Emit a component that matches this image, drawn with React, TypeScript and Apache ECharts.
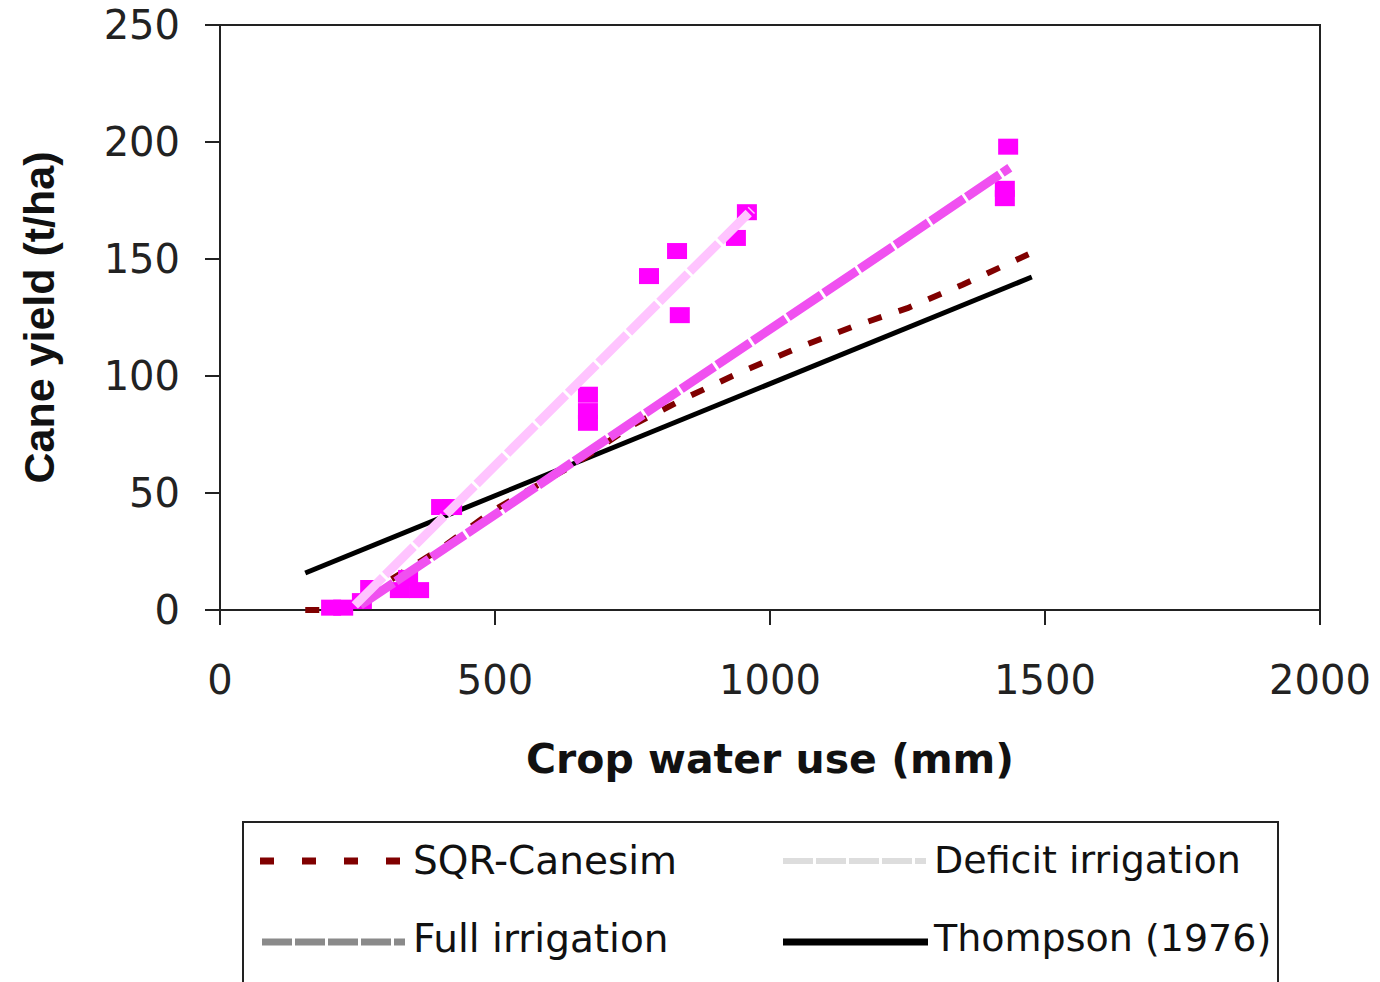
import React, { useEffect, useRef } from "react";
import * as echarts from "echarts";

const xTicks = [0, 500, 1000, 1500, 2000];
const yTicks = [0, 50, 100, 150, 200, 250];

const observedWaterUse = [202, 224, 258, 273, 327, 342, 362, 402, 422, 669, 669, 669, 780, 831, 836, 938, 958, 1433, 1427, 1427];
const observedYield = [1, 1, 3.8, 9.4, 8.5, 13.7, 8.5, 44, 44, 92, 85, 80, 142.7, 153.4, 126, 159, 170, 198, 180, 176];

const sqrWaterUse = [155, 230, 290, 400, 500, 650, 750, 850, 950, 1050, 1150, 1250, 1350, 1470];
const sqrYield = [0, 0, 10, 26, 43, 63, 79, 91, 102, 112, 121, 129, 139, 152];

const deficitWaterUse = [245, 967];
const deficitYield = [2, 171];

const fullWaterUse = [255, 1436];
const fullYield = [2, 189];

const thompsonWaterUse = [155, 1476];
const thompsonYield = [15.8, 142.3];

const legendLabels = ["SQR-Canesim", "Deficit irrigation", "Full irrigation", "Thompson (1976)"];

const zip = (xs: number[], ys: number[]) => xs.map((x, i) => [x, ys[i]]);

export default function App() {
  const ref = useRef<HTMLDivElement>(null);
  useEffect(() => {
    if (!ref.current) return;
    const chart = echarts.init(ref.current, null, { renderer: "svg" });
    const numFont = "DejaVu Sans";
    const legendFont = "39px 'DejaVu Sans'";
    chart.setOption({
      animation: false,
      backgroundColor: "#ffffff",
      grid: {
        left: 220,
        top: 25,
        width: 1100,
        height: 585,
        show: true,
        borderColor: "#222",
        borderWidth: 2,
      },
      xAxis: {
        type: "value",
        min: xTicks[0],
        max: xTicks[xTicks.length - 1],
        interval: xTicks[1] - xTicks[0],
        name: "Crop water use (mm)",
        nameLocation: "middle",
        nameGap: 128,
        nameTextStyle: { fontFamily: numFont, fontWeight: "bold", fontSize: 41, color: "#111" },
        axisLine: { show: true, lineStyle: { color: "#222", width: 2 } },
        axisTick: { show: true, inside: false, length: 15, lineStyle: { color: "#222", width: 2 } },
        axisLabel: { margin: 50, fontFamily: numFont, fontSize: 40, color: "#222", formatter: (v: number) => String(v) },
        splitLine: { show: false },
      },
      yAxis: {
        type: "value",
        min: yTicks[0],
        max: yTicks[yTicks.length - 1],
        interval: yTicks[1] - yTicks[0],
        name: "Cane yield (t/ha)",
        nameLocation: "middle",
        nameGap: 160,
        nameRotate: 90,
        nameTextStyle: { fontFamily: "Liberation Sans", fontWeight: "bold", fontSize: 43, color: "#111" },
        axisLine: { show: true, lineStyle: { color: "#222", width: 2 } },
        axisTick: { show: true, inside: false, length: 15, lineStyle: { color: "#222", width: 2 } },
        axisLabel: { margin: 40, fontFamily: numFont, fontSize: 40, color: "#222", formatter: (v: number) => String(v) },
        splitLine: { show: false },
      },
      series: [
        {
          type: "line",
          name: legendLabels[3],
          data: zip(thompsonWaterUse, thompsonYield),
          symbol: "none",
          lineStyle: { color: "#000", width: 5 },
          z: 2,
        },
        {
          type: "line",
          name: legendLabels[0],
          data: zip(sqrWaterUse, sqrYield),
          symbol: "none",
          lineStyle: { color: "#800000", width: 6, type: [14, 18] },
          z: 3,
        },
        {
          type: "scatter",
          name: "Observed",
          data: zip(observedWaterUse, observedYield),
          symbol: "rect",
          symbolSize: [20, 16],
          itemStyle: { color: "#ff00ff", opacity: 1 },
          z: 4,
        },
        {
          type: "line",
          name: legendLabels[2],
          data: zip(fullWaterUse, fullYield),
          symbol: "none",
          lineStyle: { color: "#f050f0", width: 9, type: [40, 3] },
          z: 5,
        },
        {
          type: "line",
          name: legendLabels[1],
          data: zip(deficitWaterUse, deficitYield),
          symbol: "none",
          lineStyle: { color: "#ffc4ff", width: 9, type: [40, 3] },
          z: 6,
        },
      ],
      graphic: [
        {
          type: "rect",
          shape: { x: 243, y: 822, width: 1035, height: 175 },
          style: { fill: "#fff", stroke: "#222", lineWidth: 2 },
          z: 10,
        },
        {
          type: "line",
          shape: { x1: 260, y1: 861, x2: 402, y2: 861 },
          style: { stroke: "#800000", lineWidth: 7, lineDash: [14, 28] },
          z: 11,
        },
        {
          type: "line",
          shape: { x1: 783, y1: 861, x2: 926, y2: 861 },
          style: { stroke: "#dddddd", lineWidth: 6, lineDash: [30, 3] },
          z: 11,
        },
        {
          type: "line",
          shape: { x1: 262, y1: 942, x2: 405, y2: 942 },
          style: { stroke: "#8a8a8a", lineWidth: 7, lineDash: [30, 3] },
          z: 11,
        },
        {
          type: "line",
          shape: { x1: 783, y1: 942, x2: 928, y2: 942 },
          style: { stroke: "#000", lineWidth: 7 },
          z: 11,
        },
        {
          type: "text",
          x: 413,
          y: 860,
          style: { text: legendLabels[0], font: legendFont, fill: "#111", verticalAlign: "middle", align: "left" },
          z: 11,
        },
        {
          type: "text",
          x: 934,
          y: 860,
          style: { text: legendLabels[1], font: "38px 'DejaVu Sans'", fill: "#111", verticalAlign: "middle", align: "left" },
          z: 11,
        },
        {
          type: "text",
          x: 413,
          y: 938,
          style: { text: legendLabels[2], font: legendFont, fill: "#111", verticalAlign: "middle", align: "left" },
          z: 11,
        },
        {
          type: "text",
          x: 934,
          y: 938,
          style: { text: legendLabels[3], font: "38px 'DejaVu Sans'", fill: "#111", verticalAlign: "middle", align: "left" },
          z: 11,
        },
      ],
    });
    return () => chart.dispose();
  }, []);
  return (
    <div
      ref={ref}
      style={{ position: "absolute", left: 0, top: 0, width: 1380, height: 982, background: "#fff" }}
    />
  );
}
